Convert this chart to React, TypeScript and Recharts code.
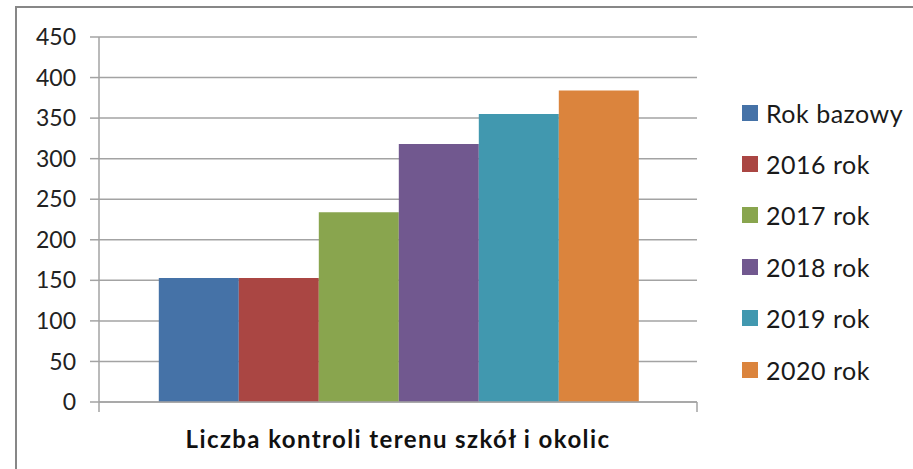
import { BarChart, Bar, XAxis, YAxis, CartesianGrid } from 'recharts'

const categories = ['Liczba kontroli terenu szkół i okolic']
const seriesNames = ['Rok bazowy', '2016 rok', '2017 rok', '2018 rok', '2019 rok', '2020 rok']
const seriesValues = [153, 153, 234, 318, 355, 384]
const seriesColors = ['#4572a7', '#aa4643', '#89a54e', '#71588f', '#4198af', '#db843d']
const yTicks = [0, 50, 100, 150, 200, 250, 300, 350, 400, 450]

const data = categories.map((name) => {
  const row: Record<string, string | number> = { name }
  seriesNames.forEach((s, i) => {
    row[s] = seriesValues[i]
  })
  return row
})

const font = 'Lato, "Noto Sans", sans-serif'
const gray = '#a3a3a3'

function CategoryTick(props: any) {
  const { x, y, width, payload } = props
  const half = (width ?? 0) / 2
  return (
    <g>
      <line x1={x - half} x2={x - half} y1={y} y2={y + 10} stroke={gray} strokeWidth={1.5} />
      <line x1={x + half} x2={x + half} y1={y} y2={y + 10} stroke={gray} strokeWidth={1.5} />
      <text
        x={x}
        y={y + 46}
        textAnchor="middle"
        fontFamily={font}
        fontWeight={700}
        fontSize={24}
        letterSpacing={1.4}
        fill="#111"
      >
        {payload.value}
      </text>
    </g>
  )
}

export default function App() {
  return (
    <div style={{ position: 'absolute', left: 0, top: 0, width: 913, height: 469, overflow: 'hidden', background: '#fff' }}>
      <div style={{ position: 'absolute', left: 15, top: 6, width: 1000, height: 600, border: '2px solid #878787' }} />
      <div style={{ position: 'absolute', left: 0, top: 0 }}>
        <BarChart
          width={913}
          height={469}
          data={data}
          margin={{ top: 37, right: 216, bottom: 0, left: 39 }}
          barCategoryGap="10%"
          barGap={0}
        >
          <CartesianGrid vertical={false} stroke={gray} strokeWidth={1.5} />
          <YAxis
            width={60}
            domain={[0, 450]}
            ticks={yTicks}
            interval={0}
            tickSize={9}
            tickMargin={14}
            axisLine={{ stroke: gray, strokeWidth: 1.5 }}
            tickLine={{ stroke: gray, strokeWidth: 1.5 }}
            tick={{ fill: '#222', fontSize: 23, fontFamily: font }}
          />
          <XAxis
            dataKey="name"
            height={67}
            tickLine={false}
            tickSize={0}
            tickMargin={0}
            axisLine={{ stroke: gray, strokeWidth: 1.5 }}
            tick={<CategoryTick />}
          />
          {seriesNames.map((s, i) => (
            <Bar key={s} dataKey={s} fill={seriesColors[i]} isAnimationActive={false} />
          ))}
        </BarChart>
      </div>
      <div
        style={{
          position: 'absolute',
          left: 742,
          top: 87,
          fontFamily: font,
          fontSize: 25,
          letterSpacing: 0.5,
          color: '#1a1a1a',
        }}
      >
        {seriesNames.map((s, i) => (
          <div key={s} style={{ display: 'flex', alignItems: 'center', height: 51.4 }}>
            <span style={{ display: 'inline-block', width: 16, height: 16, background: seriesColors[i], marginRight: 8 }} />
            <span>{s}</span>
          </div>
        ))}
      </div>
    </div>
  )
}
